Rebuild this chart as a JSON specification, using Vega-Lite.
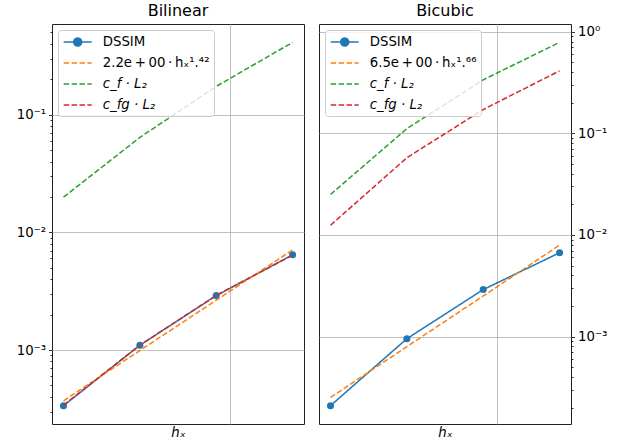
{
  "$schema": "https://vega.github.io/schema/vega-lite/v6.json",
  "background": "white",
  "padding": {"left": 15, "top": 2, "right": 0, "bottom": 0},
  "config": {
    "font": "DejaVu Sans",
    "view": {"stroke": "#222222", "strokeWidth": 1},
    "concat": {"spacing": 13},
    "title": {"fontSize": 16, "fontWeight": "normal", "color": "black", "offset": 5},
    "axis": {
      "labelFontSize": 13.3, "labelColor": "black", "titleColor": "black",
      "tickColor": "black", "tickWidth": 0.8, "gridColor": "#b0b0b0", "gridWidth": 0.8,
      "domain": false, "labelOverlap": false, "labelFlush": false, "labelBound": false
    },
    "legend": {
      "orient": "top-left", "offset": 6, "fillColor": "rgba(255,255,255,0.8)",
      "strokeColor": "#cccccc", "cornerRadius": 3, "padding": 4,
      "labelFontSize": 13.3, "labelColor": "black", "labelLimit": 300,
      "symbolType": "stroke", "symbolSize": 196, "symbolStrokeWidth": 1.5,
      "symbolOffset": 7.7, "labelOffset": 17, "rowPadding": 6
    }
  },
  "datasets": {
    "d": [
      {"panel": "Bilinear", "series": "DSSIM", "h": 0.0022, "v": 0.000336},
      {"panel": "Bilinear", "series": "DSSIM", "h": 0.0044, "v": 0.001097},
      {"panel": "Bilinear", "series": "DSSIM", "h": 0.0088, "v": 0.0029},
      {"panel": "Bilinear", "series": "DSSIM", "h": 0.0176, "v": 0.00644},
      {"panel": "Bilinear", "series": "2.2e\u2009+\u200900\u2009·\u2009hₓ¹.⁴²", "h": 0.0022, "v": 0.00037},
      {"panel": "Bilinear", "series": "2.2e\u2009+\u200900\u2009·\u2009hₓ¹.⁴²", "h": 0.0044, "v": 0.00099},
      {"panel": "Bilinear", "series": "2.2e\u2009+\u200900\u2009·\u2009hₓ¹.⁴²", "h": 0.0088, "v": 0.00265},
      {"panel": "Bilinear", "series": "2.2e\u2009+\u200900\u2009·\u2009hₓ¹.⁴²", "h": 0.0176, "v": 0.00709},
      {"panel": "Bilinear", "series": "c_f · L₂", "h": 0.0022, "v": 0.0199},
      {"panel": "Bilinear", "series": "c_f · L₂", "h": 0.0044, "v": 0.0641},
      {"panel": "Bilinear", "series": "c_f · L₂", "h": 0.0088, "v": 0.174},
      {"panel": "Bilinear", "series": "c_f · L₂", "h": 0.0176, "v": 0.412},
      {"panel": "Bilinear", "series": "c_fg · L₂", "h": 0.0022, "v": 0.00034},
      {"panel": "Bilinear", "series": "c_fg · L₂", "h": 0.0044, "v": 0.0011},
      {"panel": "Bilinear", "series": "c_fg · L₂", "h": 0.0088, "v": 0.00291},
      {"panel": "Bilinear", "series": "c_fg · L₂", "h": 0.0176, "v": 0.0064},
      {"panel": "Bicubic", "series": "DSSIM", "h": 0.0022, "v": 0.000209},
      {"panel": "Bicubic", "series": "DSSIM", "h": 0.0044, "v": 0.000953},
      {"panel": "Bicubic", "series": "DSSIM", "h": 0.0088, "v": 0.0029},
      {"panel": "Bicubic", "series": "DSSIM", "h": 0.0176, "v": 0.00668},
      {"panel": "Bicubic", "series": "6.5e\u2009+\u200900\u2009·\u2009hₓ¹.⁶⁶", "h": 0.0022, "v": 0.000252},
      {"panel": "Bicubic", "series": "6.5e\u2009+\u200900\u2009·\u2009hₓ¹.⁶⁶", "h": 0.0044, "v": 0.000795},
      {"panel": "Bicubic", "series": "6.5e\u2009+\u200900\u2009·\u2009hₓ¹.⁶⁶", "h": 0.0088, "v": 0.00251},
      {"panel": "Bicubic", "series": "6.5e\u2009+\u200900\u2009·\u2009hₓ¹.⁶⁶", "h": 0.0176, "v": 0.00794},
      {"panel": "Bicubic", "series": "c_f · L₂", "h": 0.0022, "v": 0.025},
      {"panel": "Bicubic", "series": "c_f · L₂", "h": 0.0044, "v": 0.1112},
      {"panel": "Bicubic", "series": "c_f · L₂", "h": 0.0088, "v": 0.336},
      {"panel": "Bicubic", "series": "c_f · L₂", "h": 0.0176, "v": 0.786},
      {"panel": "Bicubic", "series": "c_fg · L₂", "h": 0.0022, "v": 0.01245},
      {"panel": "Bicubic", "series": "c_fg · L₂", "h": 0.0044, "v": 0.0575},
      {"panel": "Bicubic", "series": "c_fg · L₂", "h": 0.0088, "v": 0.1714},
      {"panel": "Bicubic", "series": "c_fg · L₂", "h": 0.0176, "v": 0.412}
    ]
  },
  "resolve": {
    "scale": {"x": "independent", "y": "independent", "color": "independent", "strokeDash": "independent"},
    "legend": {"color": "independent", "strokeDash": "independent"}
  },
  "hconcat": [
    {
      "width": 252, "height": 400,
      "title": "Bilinear",
      "data": {"name": "d"},
      "transform": [{"filter": "datum.panel === 'Bilinear'"}],
      "encoding": {
        "x": {"field": "h", "type": "quantitative",
          "scale": {"type": "log", "domain": [0.001982, 0.01952]},
          "axis": {"values": [0.01], "labels": false, "ticks": false, "grid": true,
            "title": "hₓ", "titleFontStyle": "italic", "titleFontWeight": "normal", "titleFontSize": 13.3, "titlePadding": 1}},
        "y": {"field": "v", "type": "quantitative",
          "scale": {"type": "log", "domain": [0.000235, 0.59]},
          "axis": {"orient": "left", "title": null, "grid": true,
            "values": [0.0003, 0.0004, 0.0005, 0.0006, 0.0007, 0.0008, 0.0009, 0.001, 0.002, 0.003, 0.004, 0.005, 0.006, 0.007, 0.008, 0.009, 0.01, 0.02, 0.03, 0.04, 0.05, 0.06, 0.07, 0.08, 0.09, 0.1, 0.2, 0.3, 0.4, 0.5],
            "labelExpr": "datum.value === 0.1 ? '10⁻¹' : datum.value === 0.01 ? '10⁻²' : datum.value === 0.001 ? '10⁻³' : ''",
            "gridOpacity": {"condition": {"test": "datum.value === 0.1 || datum.value === 0.01 || datum.value === 0.001", "value": 1}, "value": 0},
            "tickSize": {"condition": {"test": "datum.value === 0.1 || datum.value === 0.01 || datum.value === 0.001", "value": 3.5}, "value": 2},
            "labelPadding": 3}},
        "color": {"field": "series", "type": "nominal",
          "scale": {"domain": ["DSSIM", "2.2e\u2009+\u200900\u2009·\u2009hₓ¹.⁴²", "c_f · L₂", "c_fg · L₂"], "range": ["#1f77b4", "#ff7f0e", "#2ca02c", "#d62728"]},
          "legend": {"title": null,
            "encode": {
              "symbols": {"update": {
                "shape": {"signal": "datum.value === 'DSSIM' ? 'M-2,0H2M-0.57,0A0.57,0.57,0,1,1,0.57,0A0.57,0.57,0,1,1,-0.57,0' : 'M-2,0H2'"},
                "fill": {"signal": "datum.value === 'DSSIM' ? '#1f77b4' : 'transparent'"}}},
              "labels": {"update": {
                "fontStyle": {"signal": "indexof(datum.value, 'c_f') === 0 ? 'italic' : 'normal'"}}}}}}
      },
      "layer": [
        {"transform": [{"filter": "datum.series === 'DSSIM'"}],
          "mark": {"type": "line", "strokeWidth": 1.5},
          "encoding": {"strokeDash": {"field": "series", "type": "nominal",
            "scale": {"domain": ["DSSIM", "2.2e\u2009+\u200900\u2009·\u2009hₓ¹.⁴²", "c_f · L₂", "c_fg · L₂"], "range": [[1, 0], [5.5, 2.4], [5.5, 2.4], [5.5, 2.4]]},
            "legend": {"title": null}}}},
        {"transform": [{"filter": "datum.series === 'DSSIM'"}],
          "mark": {"type": "point", "filled": true, "size": 50, "opacity": 1}},
        {"transform": [{"filter": "datum.series !== 'DSSIM'"}],
          "mark": {"type": "line", "strokeWidth": 1.5},
          "encoding": {"strokeDash": {"field": "series", "type": "nominal",
            "scale": {"domain": ["DSSIM", "2.2e\u2009+\u200900\u2009·\u2009hₓ¹.⁴²", "c_f · L₂", "c_fg · L₂"], "range": [[1, 0], [5.5, 2.4], [5.5, 2.4], [5.5, 2.4]]},
            "legend": {"title": null}}}}
      ]
    },
    {
      "width": 252, "height": 400,
      "title": "Bicubic",
      "data": {"name": "d"},
      "transform": [{"filter": "datum.panel === 'Bicubic'"}],
      "encoding": {
        "x": {"field": "h", "type": "quantitative",
          "scale": {"type": "log", "domain": [0.001982, 0.01952]},
          "axis": {"values": [0.01], "labels": false, "ticks": false, "grid": true,
            "title": "hₓ", "titleFontStyle": "italic", "titleFontWeight": "normal", "titleFontSize": 13.3, "titlePadding": 1}},
        "y": {"field": "v", "type": "quantitative",
          "scale": {"type": "log", "domain": [0.000138, 1.19]},
          "axis": {"orient": "right", "title": null, "grid": true,
            "values": [0.0002, 0.0003, 0.0004, 0.0005, 0.0006, 0.0007, 0.0008, 0.0009, 0.001, 0.002, 0.003, 0.004, 0.005, 0.006, 0.007, 0.008, 0.009, 0.01, 0.02, 0.03, 0.04, 0.05, 0.06, 0.07, 0.08, 0.09, 0.1, 0.2, 0.3, 0.4, 0.5, 0.6, 0.7, 0.8, 0.9, 1],
            "labelExpr": "datum.value === 1 ? '10⁰' : datum.value === 0.1 ? '10⁻¹' : datum.value === 0.01 ? '10⁻²' : datum.value === 0.001 ? '10⁻³' : ''",
            "gridOpacity": {"condition": {"test": "datum.value === 1 || datum.value === 0.1 || datum.value === 0.01 || datum.value === 0.001", "value": 1}, "value": 0},
            "tickSize": {"condition": {"test": "datum.value === 1 || datum.value === 0.1 || datum.value === 0.01 || datum.value === 0.001", "value": 3.5}, "value": 2},
            "labelPadding": 3}},
        "color": {"field": "series", "type": "nominal",
          "scale": {"domain": ["DSSIM", "6.5e\u2009+\u200900\u2009·\u2009hₓ¹.⁶⁶", "c_f · L₂", "c_fg · L₂"], "range": ["#1f77b4", "#ff7f0e", "#2ca02c", "#d62728"]},
          "legend": {"title": null,
            "encode": {
              "symbols": {"update": {
                "shape": {"signal": "datum.value === 'DSSIM' ? 'M-2,0H2M-0.57,0A0.57,0.57,0,1,1,0.57,0A0.57,0.57,0,1,1,-0.57,0' : 'M-2,0H2'"},
                "fill": {"signal": "datum.value === 'DSSIM' ? '#1f77b4' : 'transparent'"}}},
              "labels": {"update": {
                "fontStyle": {"signal": "indexof(datum.value, 'c_f') === 0 ? 'italic' : 'normal'"}}}}}}
      },
      "layer": [
        {"transform": [{"filter": "datum.series === 'DSSIM'"}],
          "mark": {"type": "line", "strokeWidth": 1.5},
          "encoding": {"strokeDash": {"field": "series", "type": "nominal",
            "scale": {"domain": ["DSSIM", "6.5e\u2009+\u200900\u2009·\u2009hₓ¹.⁶⁶", "c_f · L₂", "c_fg · L₂"], "range": [[1, 0], [5.5, 2.4], [5.5, 2.4], [5.5, 2.4]]},
            "legend": {"title": null}}}},
        {"transform": [{"filter": "datum.series === 'DSSIM'"}],
          "mark": {"type": "point", "filled": true, "size": 50, "opacity": 1}},
        {"transform": [{"filter": "datum.series !== 'DSSIM'"}],
          "mark": {"type": "line", "strokeWidth": 1.5},
          "encoding": {"strokeDash": {"field": "series", "type": "nominal",
            "scale": {"domain": ["DSSIM", "6.5e\u2009+\u200900\u2009·\u2009hₓ¹.⁶⁶", "c_f · L₂", "c_fg · L₂"], "range": [[1, 0], [5.5, 2.4], [5.5, 2.4], [5.5, 2.4]]},
            "legend": {"title": null}}}}
      ]
    }
  ]
}
